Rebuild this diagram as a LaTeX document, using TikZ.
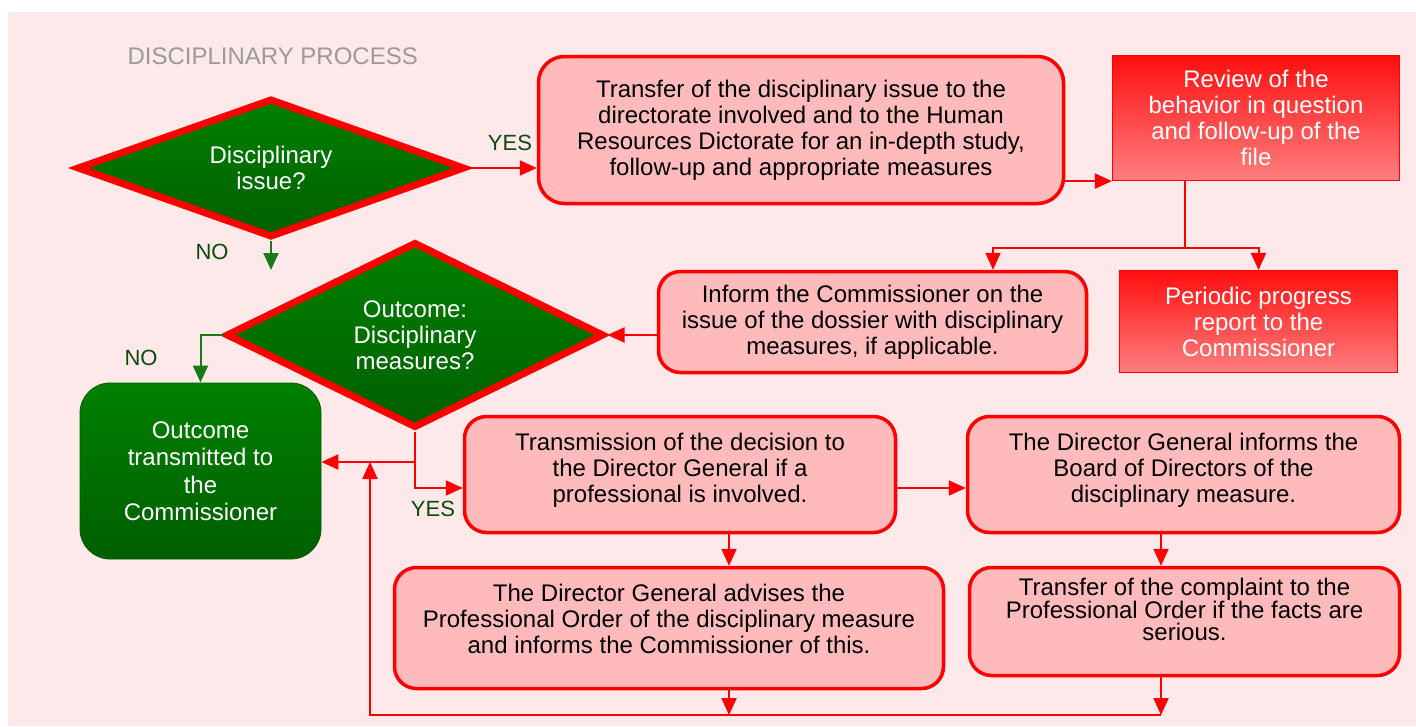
\documentclass[tikz,border=0pt]{standalone}
\usepackage{fontspec}
\setmainfont{Liberation Sans}
\usepackage{tikz}
\usetikzlibrary{shapes.geometric,arrows.meta}
\usepackage{xcolor}
\definecolor{bgpink}{HTML}{FDE9EA}
\definecolor{boxpink}{HTML}{FFBBBB}
\definecolor{redtop}{HTML}{FF0E0E}
\definecolor{redbot}{HTML}{FF7F7F}
\definecolor{greentop}{HTML}{008000}
\definecolor{greenbot}{HTML}{005F00}
\definecolor{linegreen}{HTML}{1A7A1A}
\definecolor{answergreen}{HTML}{0C4A0C}
\definecolor{titlegray}{HTML}{9A9A9A}

\begin{document}
\begin{tikzpicture}[x=1pt,y=-1pt,
    every node/.style={font=\fontsize{24}{26}\selectfont},
    stepbox/.style={draw=red, line width=3.5pt, fill=boxpink, rounded corners=22pt, align=center, inner sep=0pt},
    redbox/.style={draw=red, line width=1.2pt, top color=redtop, bottom color=redbot, text=white, align=center, inner sep=0pt},
    greenbox/.style={draw=greenbot, line width=0.8pt, top color=greentop, bottom color=greenbot, text=white, rounded corners=30pt, align=center, inner sep=0pt, font=\fontsize{24}{27.5}\selectfont},
    question/.style={diamond, draw=red, line width=7pt, top color=greentop, bottom color=greenbot, text=white, align=center, inner sep=0pt},
    answer/.style={text=answergreen, font=\fontsize{22}{26}\selectfont},
    link/.style={draw=red, line width=2pt},
    arr/.style={link, -{Triangle[length=17pt,width=15pt]}},
    garr/.style={draw=linegreen, line width=2pt, -{Triangle[length=17pt,width=15pt]}}]
        \useasboundingbox (0,0) rectangle (1416,726);
        \fill[white] (0,0) rectangle (1416,726);
        \fill[bgpink] (8,12) rectangle (1416,726);
        \node[text=titlegray, anchor=west] (title) at (124,56) {DISCIPLINARY PROCESS};

        \node[question, aspect=2.8, minimum width=388pt, minimum height=139pt] (issue) at (271,168) {Disciplinary\\issue?};
        \node[stepbox, minimum width=525pt, minimum height=147pt, rounded corners=26pt] (transfer) at (801,130) {Transfer of the disciplinary issue to the\\directorate involved and to the Human\\Resources Dictorate for an in-depth study,\\follow-up and appropriate measures};
        \node[redbox, minimum width=287pt, minimum height=125pt] (review) at (1256,118) {Review of the\\behavior in question\\and follow-up of the\\file};
        \node[stepbox, minimum width=428pt, minimum height=101pt] (inform) at (872.5,322) {Inform the Commissioner on the\\issue of the dossier with disciplinary\\measures, if applicable.};
        \node[redbox, minimum width=278pt, minimum height=102pt] (progress) at (1258.5,321.5) {Periodic progress\\report to the\\Commissioner};
        \node[question, aspect=2, minimum width=378pt, minimum height=186pt] (outcome) at (415,335) {Outcome:\\Disciplinary\\measures?};
        \node[greenbox, minimum width=241pt, minimum height=176pt] (transmitted) at (200.5,471) {Outcome\\transmitted to\\the\\Commissioner};
        \node[stepbox, minimum width=431pt, minimum height=116pt, text depth=14pt] (relay) at (680,474.5) {Transmission of the decision to\\the Director General if a\\professional is involved.};
        \node[stepbox, minimum width=432pt, minimum height=116pt, text depth=14pt] (board) at (1183.5,474.5) {The Director General informs the\\Board of Directors of the\\disciplinary measure.};
        \node[stepbox, minimum width=549pt, minimum height=121pt, text depth=19pt] (advises) at (669,628) {The Director General advises the\\Professional Order of the disciplinary measure\\and informs the Commissioner of this.};
        \node[stepbox, minimum width=430pt, minimum height=108pt, text depth=25pt, font=\fontsize{24}{21.5}\selectfont] (complaint) at (1184.5,621.5) {Transfer of the complaint to the\\Professional Order if the facts are\\serious.};

        \coordinate (nohead) at (271,270);
        \coordinate (fork) at (1185,248);
        \coordinate (forkleft) at (993,248);
        \coordinate (join) at (415,462);
        \coordinate (turn) at (415,488);
        \coordinate (colA) at (729,715);
        \coordinate (colB) at (1161,715);
        \coordinate (back) at (370,715);

        \draw[garr] (issue.south) -- (nohead);
        \node[answer] (no1) at (212,252) {NO};
        \draw[arr] (issue.east) -- (issue.east -| transfer.west);
        \node[answer] (yes1) at (510,143) {YES};
        \draw[arr] (transfer.east |- review.south west) -- (review.south west);
        \draw[link] (review.south -| fork) -- (fork);
        \draw[arr] (fork) -- (forkleft) -- (forkleft |- inform.north);
        \draw[arr] (fork) -| (progress.north);
        \draw[arr] (inform.west |- outcome.east) -- (outcome.east);
        \draw[garr] (outcome.west) -| (transmitted.north);
        \node[answer] (no2) at (141,358) {NO};
        \draw[link] (outcome.south) -- (join);
        \draw[arr] (join) -- (join -| transmitted.east);
        \draw[arr] (join) -- (turn) -- (turn -| relay.west);
        \node[answer] (yes2) at (433,509) {YES};
        \draw[arr] (relay.east |- turn) -- (board.west |- turn);
        \draw[arr] (relay.south -| colA) -- (advises.north -| colA);
        \draw[arr] (board.south -| colB) -- (complaint.north -| colB);
        \draw[arr] (advises.south -| colA) -- (colA);
        \draw[arr] (complaint.south -| colB) -- (colB);
        \draw[arr] (colB) -- (back) -- (back |- join);
    \end{tikzpicture}
\end{document}
